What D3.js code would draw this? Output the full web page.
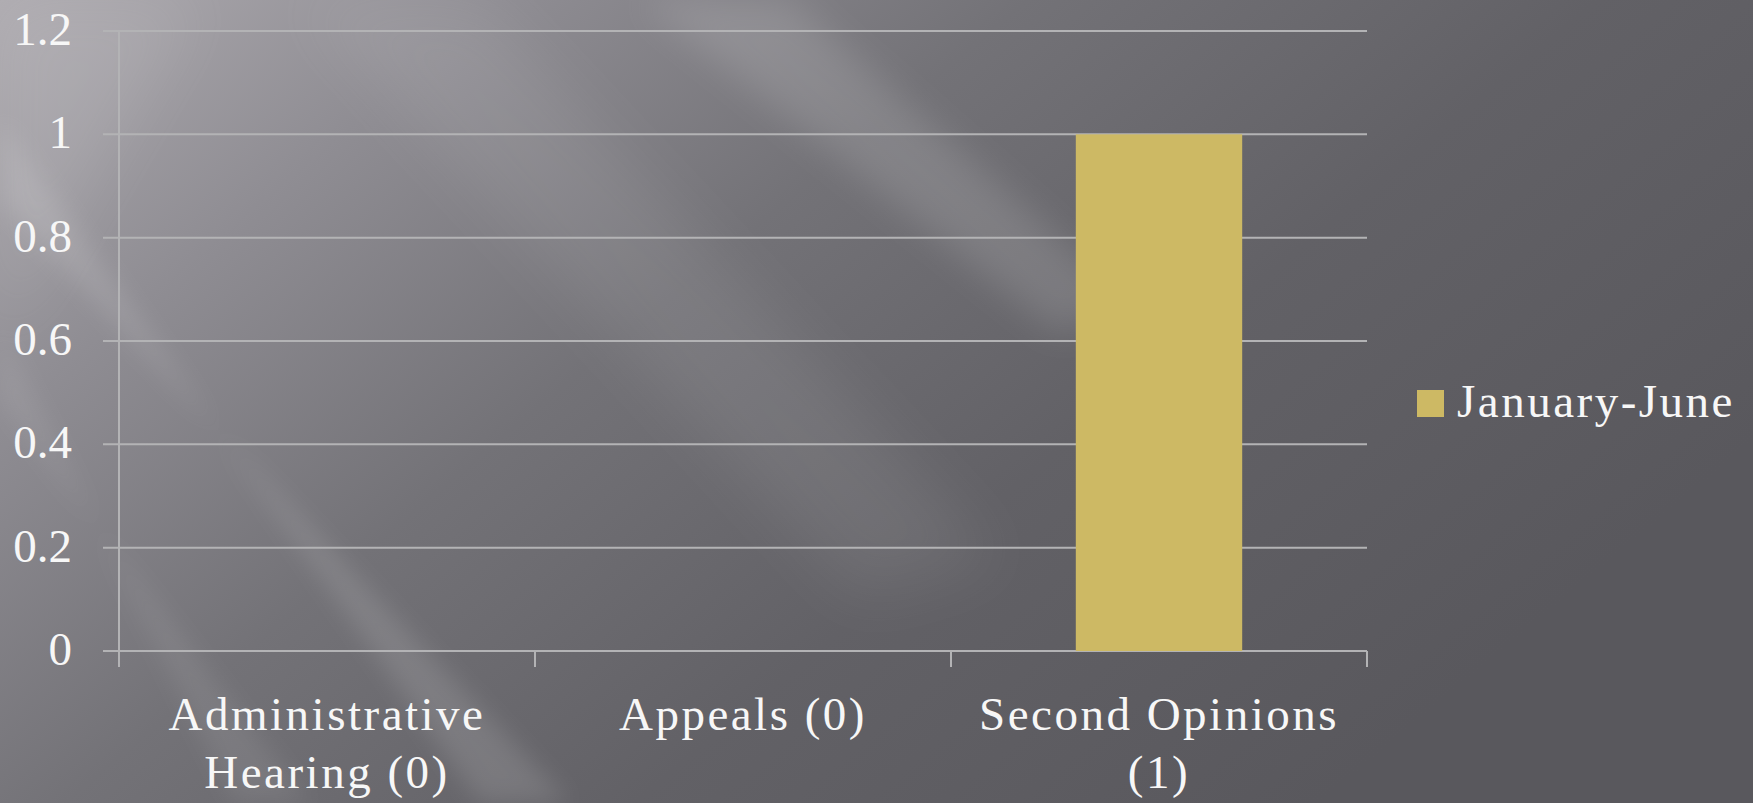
<!DOCTYPE html>
<html>
<head>
<meta charset="utf-8">
<script src="https://cdn.jsdelivr.net/npm/d3@7"></script>
<style>
  html, body { margin: 0; padding: 0; background: #5d5c61; }
  svg { display: block; }
  text { font-family: "Palatino Linotype", "Book Antiqua", Palatino, "Liberation Serif", serif; fill: #f7f7f7; }
</style>
</head>
<body>
<svg id="chart" width="1753" height="803"></svg>
<script>
// ---- data ----
const categories = ["Administrative Hearing (0)", "Appeals (0)", "Second Opinions (1)"];
const categoryLines = [["Administrative", "Hearing (0)"], ["Appeals (0)"], ["Second Opinions", "(1)"]];
const seriesName = "January-June";
const values = [0, 0, 1];
const yTicks = [0, 0.2, 0.4, 0.6, 0.8, 1, 1.2];
const yTickLabels = ["0", "0.2", "0.4", "0.6", "0.8", "1", "1.2"];

// ---- layout ----
const W = 1753, H = 803;
const plotLeft = 119, plotRight = 1367, plotTop = 31, plotBottom = 651;
const svg = d3.select("#chart");

// background
const defs = svg.append("defs");
const bg = defs.append("linearGradient").attr("id", "bg")
  .attr("x1", "0").attr("y1", "0").attr("x2", "1").attr("y2", "0.55");
[["0%", "#aeabb0"], ["22%", "#8f8d93"], ["45%", "#737277"], ["70%", "#626166"], ["100%", "#59585d"]]
  .forEach(([o, c]) => bg.append("stop").attr("offset", o).attr("stop-color", c));
function addBlur(id, sd) {
  defs.append("filter").attr("id", id).attr("x", "-50%").attr("y", "-50%").attr("width", "200%").attr("height", "200%")
    .append("feGaussianBlur").attr("stdDeviation", sd);
}
addBlur("b12", 12); addBlur("b18", 18); addBlur("b30", 30);

svg.append("rect").attr("width", W).attr("height", H).attr("fill", "url(#bg)");
const deco = svg.append("g");
// soft diagonal light streaks (decoration)
const streaks = [
  {pts: [[640,0],[790,0],[1130,300],[1060,335]], op: 0.13, f: "b18"},
  {pts: [[300,0],[480,0],[1000,560],[860,600]], op: 0.07, f: "b30"},
  {pts: [[0,120],[0,200],[570,803],[480,803]], op: 0.12, f: "b12"},
  {pts: [[0,330],[0,400],[310,803],[235,803]], op: 0.08, f: "b12"},
  {pts: [[0,0],[200,0],[0,340]], op: 0.08, f: "b30"}
];
streaks.forEach(s => deco.append("polygon")
  .attr("points", s.pts.map(p => p.join(",")).join(" "))
  .attr("fill", "#ffffff").attr("opacity", s.op).attr("filter", `url(#${s.f})`));

// scales
const x = d3.scaleBand().domain(categories).range([plotLeft, plotRight]).paddingInner(0.6).paddingOuter(0.3);
const y = d3.scaleLinear().domain([0, 1.2]).range([plotBottom, plotTop]);

const lineColor = "#b3b3b5";

// gridlines (with outward ticks)
svg.append("g").selectAll("line").data(yTicks).join("line")
  .attr("x1", plotLeft - 16).attr("x2", plotRight)
  .attr("y1", d => y(d)).attr("y2", d => y(d))
  .attr("stroke", lineColor).attr("stroke-width", 2);

// y axis line
svg.append("line").attr("x1", plotLeft).attr("x2", plotLeft).attr("y1", y(1.2)).attr("y2", plotBottom + 16)
  .attr("stroke", lineColor).attr("stroke-width", 2);

// x category ticks (category boundaries)
const xTickPos = categories.map((c, i) => plotLeft + (i + 1) * (plotRight - plotLeft) / categories.length);
svg.append("g").selectAll("line").data([plotLeft, ...xTickPos]).join("line")
  .attr("x1", d => d).attr("x2", d => d).attr("y1", plotBottom).attr("y2", plotBottom + 16)
  .attr("stroke", lineColor).attr("stroke-width", 2);

// bars
svg.append("g").selectAll("rect").data(values).join("rect")
  .attr("x", (d, i) => x(categories[i]))
  .attr("width", x.bandwidth())
  .attr("y", d => y(d))
  .attr("height", d => plotBottom - y(d))
  .attr("fill", "#cdb964");

// y tick labels
svg.append("g").selectAll("text").data(yTicks).join("text")
  .attr("x", 72).attr("y", d => y(d)).attr("dy", "0.3em")
  .attr("text-anchor", "end").attr("font-size", 47)
  .text((d, i) => yTickLabels[i]);

// x category labels
const xl = svg.append("g").selectAll("text").data(categories).join("text")
  .attr("x", d => x(d) + x.bandwidth() / 2)
  .attr("y", 730)
  .attr("text-anchor", "middle").attr("font-size", 47).attr("letter-spacing", 2.5);
xl.each(function(d, i) {
  const t = d3.select(this);
  categoryLines[i].forEach((ln, j) => t.append("tspan")
    .attr("x", x(d) + x.bandwidth() / 2).attr("dy", j === 0 ? 0 : 58).text(ln));
});

// legend
const lg = svg.append("g");
lg.append("rect").attr("x", 1417).attr("y", 390).attr("width", 27).attr("height", 27).attr("fill", "#cdb964");
lg.append("text").attr("x", 1457).attr("y", 417).attr("font-size", 47).attr("letter-spacing", 2.5).text(seriesName);
</script>
</body>
</html>
